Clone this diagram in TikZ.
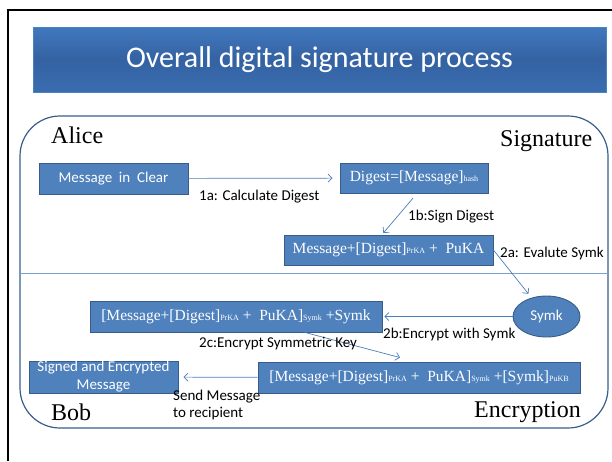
\documentclass[tikz,border=0pt]{standalone}
\usepackage{fontspec}
\setmainfont{Liberation Serif}
\newfontfamily\calibri{Carlito}
\usetikzlibrary{arrows.meta,shapes.geometric}

\definecolor{boxblue}{HTML}{4F81BD}
\definecolor{boxedge}{HTML}{385D8A}
\definecolor{arrowblue}{HTML}{4A7EBB}
\definecolor{titletop}{HTML}{4178BE}
\definecolor{titlemid}{HTML}{3462A2}
\definecolor{titlebot}{HTML}{3A6DB0}

\newcommand\ksub[1]{{\fontsize{8}{8}\selectfont #1}}

\begin{document}
\begin{tikzpicture}[
		x=1pt, y=-1pt,
		stepbox/.style={draw=boxedge, fill=boxblue, text=white, line width=0.9pt, inner sep=0pt},
		serifbox/.style={stepbox, font=\fontsize{15.5}{17}\selectfont},
		sansbox/.style={stepbox, font=\calibri\fontsize{15}{18}\selectfont},
		lbl/.style={anchor=west, inner sep=0pt, font=\calibri\fontsize{15}{17}\selectfont},
		party/.style={anchor=west, inner sep=0pt, font=\fontsize{24}{24}\selectfont},
		flow/.style={draw=arrowblue, line width=0.7pt, -{Straight Barb[length=4pt,width=8pt]}}
		]
		\useasboundingbox (0,0) rectangle (612,461);
		% slide frame and title
		\draw[line width=2pt] (8,461) -- (8,10) -- (612,10);
		\node[draw=boxblue, top color=titletop, bottom color=titlebot, middle color=titlemid,
			minimum width=573pt, minimum height=65pt, inner sep=0pt,
			text=white, font=\calibri\fontsize{30}{36}\selectfont] (title) at (319.5,59.5) {Overall digital signature process};
		% the two halves
		\draw[boxedge, line width=1.2pt, rounded corners=40pt] (20,116) rectangle (608,428);
		\draw[boxblue!75, line width=0.8pt] (20,273) -- (608,273);
		\node[party] (alice) at (51,135) {Alice};
		\node[party] (sig) at (500,141) {Signature};
		\node[party] (bob) at (51,412) {Bob};
		\node[party] (enc) at (474,412) {Encryption};
		% boxes
		\node[sansbox, minimum width=149pt, minimum height=31pt] (clear) at (113.5,178.5) {Message\ \ in\ \ Clear};
		\node[serifbox, minimum width=148pt, minimum height=30pt] (digest) at (414,178) {Digest=[Message]\ksub{hash}};
		\node[serifbox, minimum width=209pt, minimum height=30pt] (signed) at (388.5,250) {Message+[Digest]\ksub{PrKA} +\ \ PuKA};
		\node[sansbox, ellipse, minimum width=67pt, minimum height=41pt] (symk) at (546.5,316.5) {Symk};
		\node[serifbox, minimum width=292pt, minimum height=31pt] (symenc) at (236,316.5) {[Message+[Digest]\ksub{PrKA} +\ \ PuKA]\ksub{Symk} +Symk};
		\node[serifbox, minimum width=322pt, minimum height=31pt] (full) at (419,377.5) {[Message+[Digest]\ksub{PrKA} +\ \ PuKA]\ksub{Symk} +[Symk]\ksub{PuKB}};
		\node[sansbox, minimum width=149pt, minimum height=32pt, align=center] (final) at (103.5,377) {Signed and Encrypted\\Message};
		% steps
		\draw[flow, shorten >=7pt] (clear) -- (digest);
		\draw[flow, shorten <=6pt, shorten >=2pt] ([xshift=3pt]digest.south) -- ([xshift=-6.5pt]signed.north);
		\draw[flow, shorten >=5pt] (signed.east) -- (symk);
		\draw[flow, shorten >=2pt] (symk) -- (symenc);
		\draw[flow] ([xshift=69pt]symenc.south) -- ([xshift=-19pt,yshift=4pt]full.north);
		\draw[flow, shorten >=5pt] (full) -- (final);
		\node[lbl] (l1a) at (199,197) {1a: Calculate Digest};
		\node[lbl] (l1b) at (408,217) {1b:Sign Digest};
		\node[lbl] (l2a) at (500,253) {2a: Evalute Symk};
		\node[lbl] (l2b) at (383,334) {2b:Encrypt with Symk};
		\node[lbl] (l2c) at (199,344) {2c:Encrypt Symmetric Key};
		\node[lbl, align=left] (lsend) at (173,404.5) {Send Message\\to recipient};
	\end{tikzpicture}
\end{document}
